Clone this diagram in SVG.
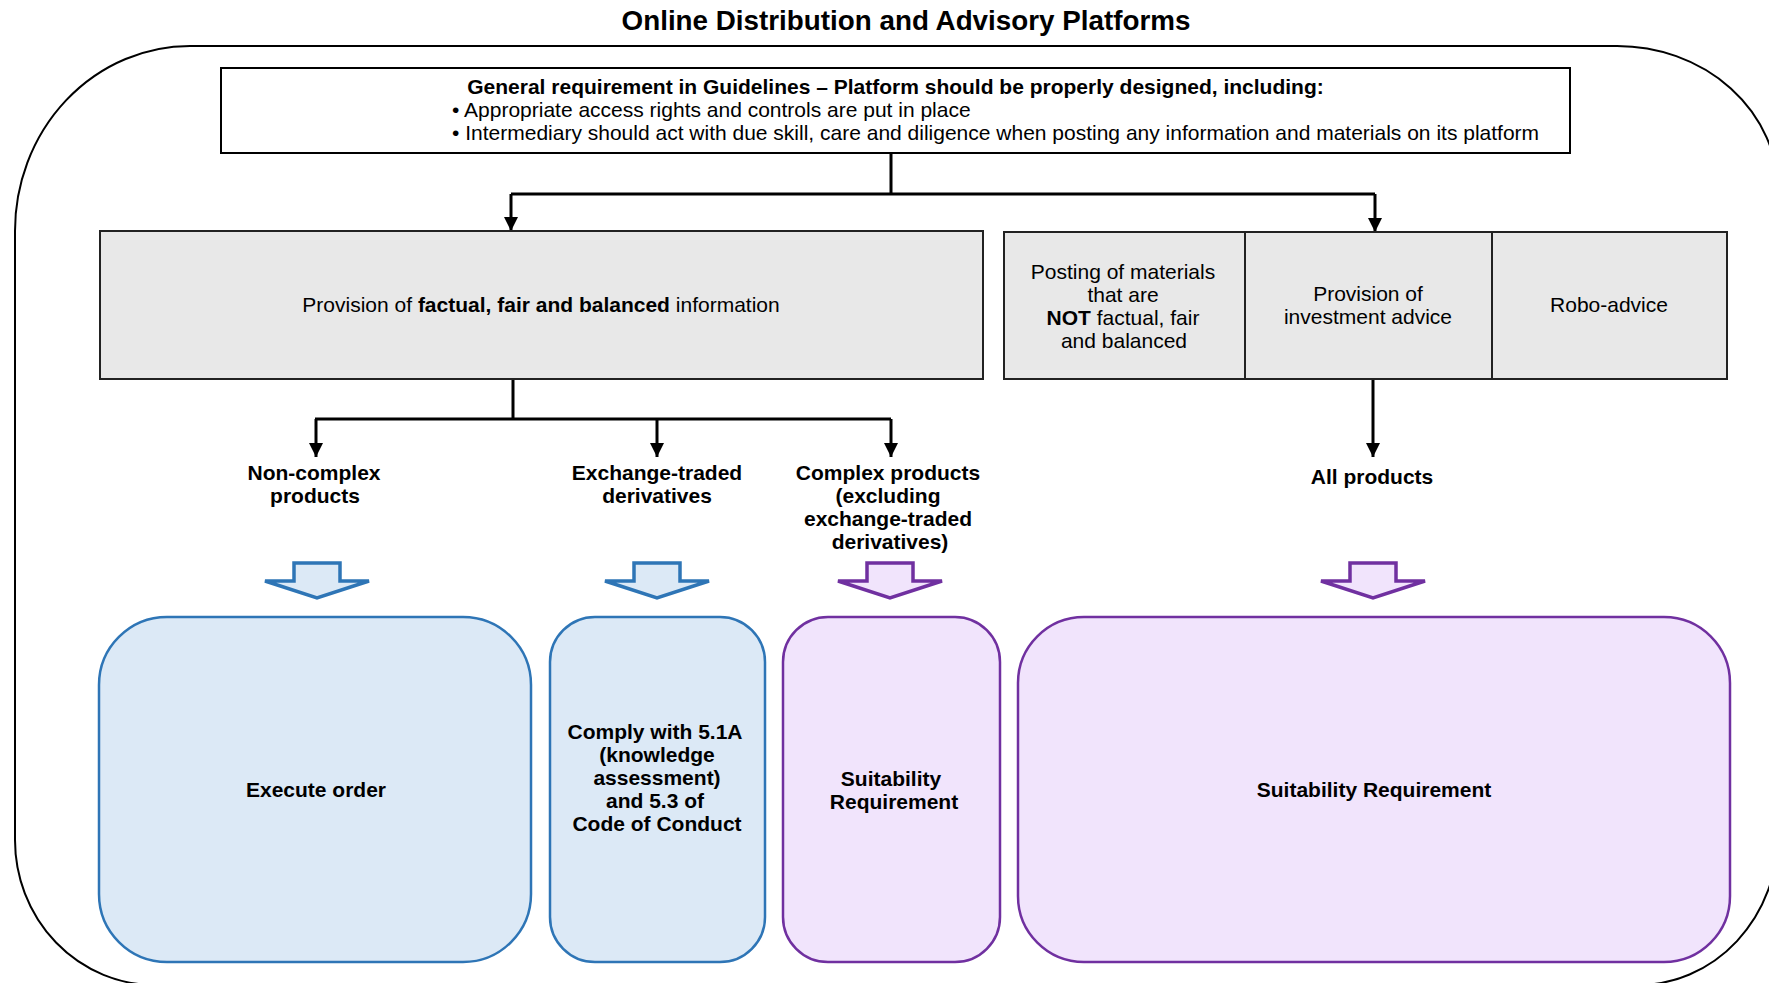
<svg xmlns="http://www.w3.org/2000/svg" width="1769" height="983" viewBox="0 0 1769 983">
<defs>
<style>
text{font-family:"Liberation Sans",Arial,sans-serif;font-size:21px;fill:#000}
.b{font-weight:bold}
.t{font-size:27.8px;font-weight:bold}
.c{text-anchor:middle}
.conn{fill:none;stroke:#000;stroke-width:3}
.grey{fill:#e8e8e8;stroke:#222;stroke-width:2}
.blue{fill:#dce9f6;stroke:#2e75b6;stroke-width:2.5}
.purple{fill:#f1e4fc;stroke:#7030a0;stroke-width:2.5}
.barrow{fill:#dce9f6;stroke:#2e75b6;stroke-width:3.5}
.parrow{fill:#f1e4fc;stroke:#7030a0;stroke-width:3.5}
</style>
<marker id="ah" markerUnits="userSpaceOnUse" markerWidth="14" markerHeight="14" viewBox="0 0 14 14" refX="14" refY="7" orient="auto">
<path d="M0,0 L14,7 L0,14 z" fill="#000"/>
</marker>
</defs>
<rect width="1769" height="983" fill="#fff"/>
<text class="t c" x="906" y="30">Online Distribution and Advisory Platforms</text>
<path id="frame" d="M190,46 L1617,46 A161,145 0 0 1 1778,191 L1778,835 A140,150 0 0 1 1638,985 L155,985 A140,145 0 0 1 15,840 L15,231 A175,185 0 0 1 190,46 Z" fill="none" stroke="#000" stroke-width="2"/>
<g id="connectors">
<path class="conn" d="M891,153 L891,194 M511,194 L1375,194"/>
<path class="conn" d="M511,194 L511,231" marker-end="url(#ah)"/>
<path class="conn" d="M1375,194 L1375,232" marker-end="url(#ah)"/>
<path class="conn" d="M513,379 L513,419 M315,419 L891,419"/>
<path class="conn" d="M316,419 L316,457" marker-end="url(#ah)"/>
<path class="conn" d="M657,419 L657,457" marker-end="url(#ah)"/>
<path class="conn" d="M891,419 L891,457" marker-end="url(#ah)"/>
<path class="conn" d="M1373,379 L1373,457" marker-end="url(#ah)"/>
<polygon class="barrow" points="294,563 340,563 340,581 369,581 317,598 265,581 294,581"/>
<polygon class="barrow" points="634,563 680,563 680,581 709,581 657,598 605,581 634,581"/>
<polygon class="parrow" points="867,563 913,563 913,581 942,581 890,598 838,581 867,581"/>
<polygon class="parrow" points="1350,563 1396,563 1396,581 1425,581 1373,598 1321,581 1350,581"/>
</g>
<g id="general">
<rect x="221" y="68" width="1349" height="85" fill="#fff" stroke="#000" stroke-width="2"/>
<text class="b c" x="895.5" y="94">General requirement in Guidelines – Platform should be properly designed, including:</text>
<text x="452" y="117">• Appropriate access rights and controls are put in place</text>
<text x="452" y="140">• Intermediary should act with due skill, care and diligence when posting any information and materials on its platform</text>
</g>
<g id="factual">
<rect class="grey" x="100" y="231" width="883" height="148"/>
<text class="c" x="541" y="312">Provision of <tspan class="b">factual, fair and balanced</tspan> information</text>
</g>
<g id="posting">
<rect class="grey" x="1004" y="232" width="241" height="147"/>
<text class="c" x="1123" y="279">Posting of materials</text>
<text class="c" x="1123" y="302">that are</text>
<text class="c" x="1123" y="325"><tspan class="b">NOT</tspan> factual, fair</text>
<text class="c" x="1124" y="348">and balanced</text>
</g>
<g id="advice">
<rect class="grey" x="1245" y="232" width="247" height="147"/>
<text class="c" x="1368" y="301">Provision of</text>
<text class="c" x="1368" y="324">investment advice</text>
</g>
<g id="robo">
<rect class="grey" x="1492" y="232" width="235" height="147"/>
<text class="c" x="1609" y="312">Robo-advice</text>
</g>
<g id="lbl-noncomplex">
<text class="b c" x="314" y="480">Non-complex</text>
<text class="b c" x="315" y="503">products</text>
</g>
<g id="lbl-etd">
<text class="b c" x="657" y="480">Exchange-traded</text>
<text class="b c" x="657" y="503">derivatives</text>
</g>
<g id="lbl-complex">
<text class="b c" x="888" y="480">Complex products</text>
<text class="b c" x="888" y="503">(excluding</text>
<text class="b c" x="888" y="526">exchange-traded</text>
<text class="b c" x="890" y="549">derivatives)</text>
</g>
<g id="lbl-all">
<text class="b c" x="1372" y="484">All products</text>
</g>
<g id="execute">
<rect class="blue" x="99" y="617" width="432" height="345" rx="68" ry="68"/>
<text class="b c" x="316" y="797">Execute order</text>
</g>
<g id="comply">
<rect class="blue" x="550" y="617" width="215" height="345" rx="45" ry="45"/>
<text class="b c" x="655" y="739">Comply with 5.1A</text>
<text class="b c" x="657" y="762">(knowledge</text>
<text class="b c" x="657" y="785">assessment)</text>
<text class="b c" x="655" y="808">and 5.3 of</text>
<text class="b c" x="657" y="831">Code of Conduct</text>
</g>
<g id="suit1">
<rect class="purple" x="783" y="617" width="217" height="345" rx="45" ry="45"/>
<text class="b c" x="891" y="786">Suitability</text>
<text class="b c" x="894" y="809">Requirement</text>
</g>
<g id="suit2">
<rect class="purple" x="1018" y="617" width="712" height="345" rx="66" ry="66"/>
<text class="b c" x="1374" y="797">Suitability Requirement</text>
</g>
</svg>
